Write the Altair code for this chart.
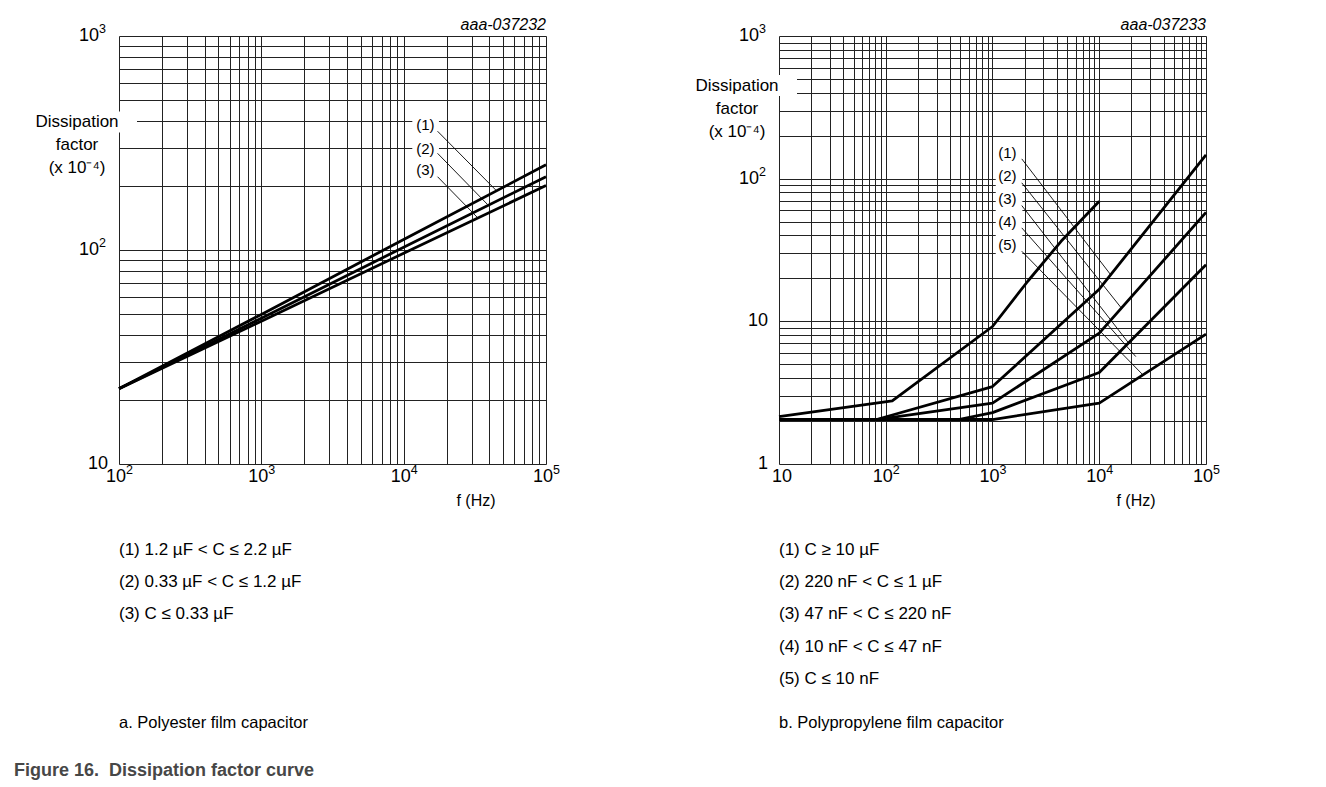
import math
import altair as alt
import pandas as pd

FONT = "Liberation Sans, Arial, Helvetica, sans-serif"
W, H = 427, 428

# ---------------- Panel a: polyester film capacitor ----------------
a_freq = [100, 1000, 10000, 100000]
a_curve1 = [22.5, 50, 112, 250]
a_curve2 = [22.5, 48, 103, 220]
a_curve3 = [22.5, 46.5, 96.5, 200]
a_names = ["(1)", "(2)", "(3)"]

a_label_f = [14200, 14200, 14200]
a_label_v = [385, 298, 236]
a_lead_f0 = [17300, 17300, 17300]
a_lead_v0 = [359, 283, 220]
a_lead_f1 = [44600, 38900, 33100]
a_lead_v1 = [190, 163, 141.5]
a_mask_f = [11500, 17700]
a_mask_v = [212, 435]

a_xtick_vals = [100, 1000, 10000, 100000]
a_xtick_base = ["10", "10", "10", "10"]
a_xtick_exp = ["2", "3", "4", "5"]
a_ytick_vals = [10, 100, 1000]
a_ytick_base = ["10", "10", "10"]
a_ytick_exp = ["", "2", "3"]

a_legend = ["(1) 1.2 µF < C ≤ 2.2 µF", "(2) 0.33 µF < C ≤ 1.2 µF", "(3) C ≤ 0.33 µF"]
a_caption = "a. Polyester film capacitor"
a_code = "aaa-037232"

# ---------------- Panel b: polypropylene film capacitor ----------------
b_c1_f = [10, 115, 1000, 2140, 4390, 10000]
b_c1_v = [2.15, 2.77, 9.2, 19.1, 36.4, 69.5]
b_c2_f = [10, 82, 1000, 10000, 100000]
b_c2_v = [2.05, 2.05, 3.49, 16.8, 147]
b_c3_f = [10, 82, 1000, 10000, 100000]
b_c3_v = [2.05, 2.05, 2.67, 8.26, 58]
b_c4_f = [10, 480, 1000, 10000, 100000]
b_c4_v = [2.05, 2.05, 2.29, 4.38, 24.9]
b_c5_f = [10, 1000, 10000, 100000]
b_c5_v = [2.05, 2.05, 2.67, 8.13]
b_names = ["(1)", "(2)", "(3)", "(4)", "(5)"]

b_label_f = [1380, 1380, 1380, 1380, 1380]
b_label_v = [151, 104, 72.4, 49.4, 34.4]
b_lead_f0 = [1880, 1880, 1880, 1880, 1880]
b_lead_v0 = [137.6, 93.5, 64.8, 45.2, 31]
b_lead_f1 = [12800, 16100, 18800, 22000, 25600]
b_lead_v1 = [21.2, 12.4, 7.06, 5.66, 4.22]
b_mask_f = [1072, 1905]
b_mask_v = [24.8, 177.8]

b_xtick_vals = [10, 100, 1000, 10000, 100000]
b_xtick_base = ["10", "10", "10", "10", "10"]
b_xtick_exp = ["", "2", "3", "4", "5"]
b_ytick_vals = [1, 10, 100, 1000]
b_ytick_base = ["1", "10", "10", "10"]
b_ytick_exp = ["", "", "2", "3"]

b_legend = ["(1) C ≥ 10 µF", "(2) 220 nF < C ≤ 1 µF", "(3) 47 nF < C ≤ 220 nF",
            "(4) 10 nF < C ≤ 47 nF", "(5) C ≤ 10 nF"]
b_caption = "b. Polypropylene film capacitor"
b_code = "aaa-037233"

fig_title = "Figure 16.\u00a0 Dissipation factor curve"
y_title = "Dissipation\nfactor\n(x 10⁻⁴)"
x_title = "f (Hz)"


def log_grid(lo, hi):
    vals = [m * 10 ** e for e in range(lo, hi) for m in range(1, 10)]
    return vals + [10 ** hi]


def panel(curves, labels, leads, mask, xt, yt, xdom, ydom, legend, caption, code,
          ytitle_y, first=False):
    xs = alt.Scale(type="log", domain=list(xdom), nice=False)
    ys = alt.Scale(type="log", domain=list(ydom), nice=False)
    xg = log_grid(int(round(math.log10(xdom[0]))), int(round(math.log10(xdom[1]))))
    yg = log_grid(int(round(math.log10(ydom[0]))), int(round(math.log10(ydom[1]))))
    gstyle = dict(grid=True, labels=False, ticks=False, domain=False, title=None,
                  gridColor="#222222", gridWidth=1, gridOpacity=1)
    xa = alt.Axis(values=xg, **gstyle)
    ya = alt.Axis(values=yg, **gstyle)

    def X(f):
        return alt.X(f, type="quantitative", scale=xs, axis=xa)

    def Y(f):
        return alt.Y(f, type="quantitative", scale=ys, axis=ya)

    rows = []
    for name, fs, vs in curves:
        for f, v in zip(fs, vs):
            rows.append({"series": name, "f": f, "v": v})
    cdf = pd.DataFrame(rows)

    mdf = pd.DataFrame({"f0": [mask[0][0]], "f1": [mask[0][1]],
                        "v0": [mask[1][0]], "v1": [mask[1][1]]})
    mask_l = alt.Chart(mdf).mark_rect(color="white", opacity=1).encode(
        x=X("f0"), x2="f1", y=Y("v0"), y2="v1")

    curve_l = alt.Chart(cdf).mark_line(color="black", strokeWidth=2.8,
                                       strokeJoin="round").encode(
        x=X("f"), y=Y("v"), detail="series:N", order=alt.Order("f:Q"))

    ldf = pd.DataFrame({"f0": leads[0], "v0": leads[1], "f1": leads[2], "v1": leads[3]})
    lead_l = alt.Chart(ldf).mark_rule(color="black", strokeWidth=0.9).encode(
        x=X("f0"), y=Y("v0"), x2="f1", y2="v1")

    tdf = pd.DataFrame({"f": labels[0], "v": labels[1], "t": labels[2]})
    lab_l = alt.Chart(tdf).mark_text(fontSize=15, font=FONT, color="black").encode(
        x=X("f"), y=Y("v"), text="t:N")

    # x tick labels
    xdf = pd.DataFrame({"val": xt[0], "base": xt[1], "exp": xt[2]})
    xb_e = alt.Chart(xdf).transform_filter("datum.exp != ''").mark_text(
        fontSize=18, font=FONT, align="right", baseline="middle", dx=7).encode(
        x=X("val"), y=alt.value(H + 13), text="base:N")
    xe_e = alt.Chart(xdf).transform_filter("datum.exp != ''").mark_text(
        fontSize=12.5, font=FONT, align="left", baseline="middle", dx=7, dy=-7).encode(
        x=X("val"), y=alt.value(H + 13), text="exp:N")
    xb_n = alt.Chart(xdf).transform_filter("datum.exp == ''").mark_text(
        fontSize=18, font=FONT, align="center", baseline="middle", dx=3).encode(
        x=X("val"), y=alt.value(H + 13), text="base:N")

    # y tick labels
    ydf = pd.DataFrame({"val": yt[0], "base": yt[1], "exp": yt[2]})
    yb_e = alt.Chart(ydf).transform_filter("datum.exp != ''").mark_text(
        fontSize=18, font=FONT, align="right", baseline="middle").encode(
        x=alt.value(-20), y=Y("val"), text="base:N")
    ye_e = alt.Chart(ydf).transform_filter("datum.exp != ''").mark_text(
        fontSize=12.5, font=FONT, align="left", baseline="middle", dy=-7).encode(
        x=alt.value(-20), y=Y("val"), text="exp:N")
    yb_n = alt.Chart(ydf).transform_filter("datum.exp == ''").mark_text(
        fontSize=18, font=FONT, align="right", baseline="middle").encode(
        x=alt.value(-11), y=Y("val"), text="base:N")

    # decorations
    ymask = alt.Chart(mdf).mark_rect(color="white").encode(
        x=alt.value(0), x2=alt.value(18),
        y=alt.value(ytitle_y - 10.5), y2=alt.value(ytitle_y + 10.5))
    ytxt = alt.Chart(mdf).mark_text(fontSize=17, font=FONT, align="center",
                                    baseline="middle", lineBreak="\n",
                                    lineHeight=23).encode(
        x=alt.value(-42), y=alt.value(ytitle_y), text=alt.value(y_title))
    xtxt = alt.Chart(mdf).mark_text(fontSize=16, font=FONT, align="center",
                                    baseline="middle").encode(
        x=alt.value(357), y=alt.value(H + 37), text=alt.value(x_title))
    codetxt = alt.Chart(mdf).mark_text(fontSize=16, font=FONT, fontStyle="italic",
                                       align="right", baseline="middle").encode(
        x=alt.value(W), y=alt.value(-11), text=alt.value(code))
    legtxt = alt.Chart(mdf).mark_text(fontSize=17, font=FONT, align="left",
                                      baseline="middle", lineBreak="\n",
                                      lineHeight=32.2).encode(
        x=alt.value(0), y=alt.value(514), text=alt.value("\n".join(legend)))
    captxt = alt.Chart(mdf).mark_text(fontSize=16.5, font=FONT, align="left",
                                      baseline="middle").encode(
        x=alt.value(0), y=alt.value(687), text=alt.value(caption))

    layers = [mask_l, ymask, curve_l, lead_l, lab_l, xb_e, xe_e, xb_n, yb_e, ye_e, yb_n,
              ytxt, xtxt, codetxt, legtxt, captxt]
    if first:
        figtxt = alt.Chart(mdf).mark_text(fontSize=18, font=FONT, fontWeight="bold",
                                          color="#474747", align="left",
                                          baseline="middle").encode(
            x=alt.value(-105), y=alt.value(735), text=alt.value(fig_title))
        layers.append(figtxt)
    return alt.layer(*layers).properties(width=W, height=H)


left = panel(
    curves=[(a_names[0], a_freq, a_curve1), (a_names[1], a_freq, a_curve2),
            (a_names[2], a_freq, a_curve3)],
    labels=(a_label_f, a_label_v, a_names),
    leads=(a_lead_f0, a_lead_v0, a_lead_f1, a_lead_v1),
    mask=(a_mask_f, a_mask_v),
    xt=(a_xtick_vals, a_xtick_base, a_xtick_exp),
    yt=(a_ytick_vals, a_ytick_base, a_ytick_exp),
    xdom=(100, 100000), ydom=(10, 1000),
    legend=a_legend, caption=a_caption, code=a_code, ytitle_y=86, first=True)

right = panel(
    curves=[(b_names[0], b_c1_f, b_c1_v), (b_names[1], b_c2_f, b_c2_v),
            (b_names[2], b_c3_f, b_c3_v), (b_names[3], b_c4_f, b_c4_v),
            (b_names[4], b_c5_f, b_c5_v)],
    labels=(b_label_f, b_label_v, b_names),
    leads=(b_lead_f0, b_lead_v0, b_lead_f1, b_lead_v1),
    mask=(b_mask_f, b_mask_v),
    xt=(b_xtick_vals, b_xtick_base, b_xtick_exp),
    yt=(b_ytick_vals, b_ytick_base, b_ytick_exp),
    xdom=(10, 100000), ydom=(1, 1000),
    legend=b_legend, caption=b_caption, code=b_code, ytitle_y=49.5)

chart = alt.hconcat(left, right, spacing=233, bounds="flush").properties(
    padding={"left": 5, "top": 8, "right": 0, "bottom": 0}
).configure_view(stroke=None).configure(font=FONT, background="white")

chart.save("out.html", embed_options={"renderer": "svg", "actions": False})
